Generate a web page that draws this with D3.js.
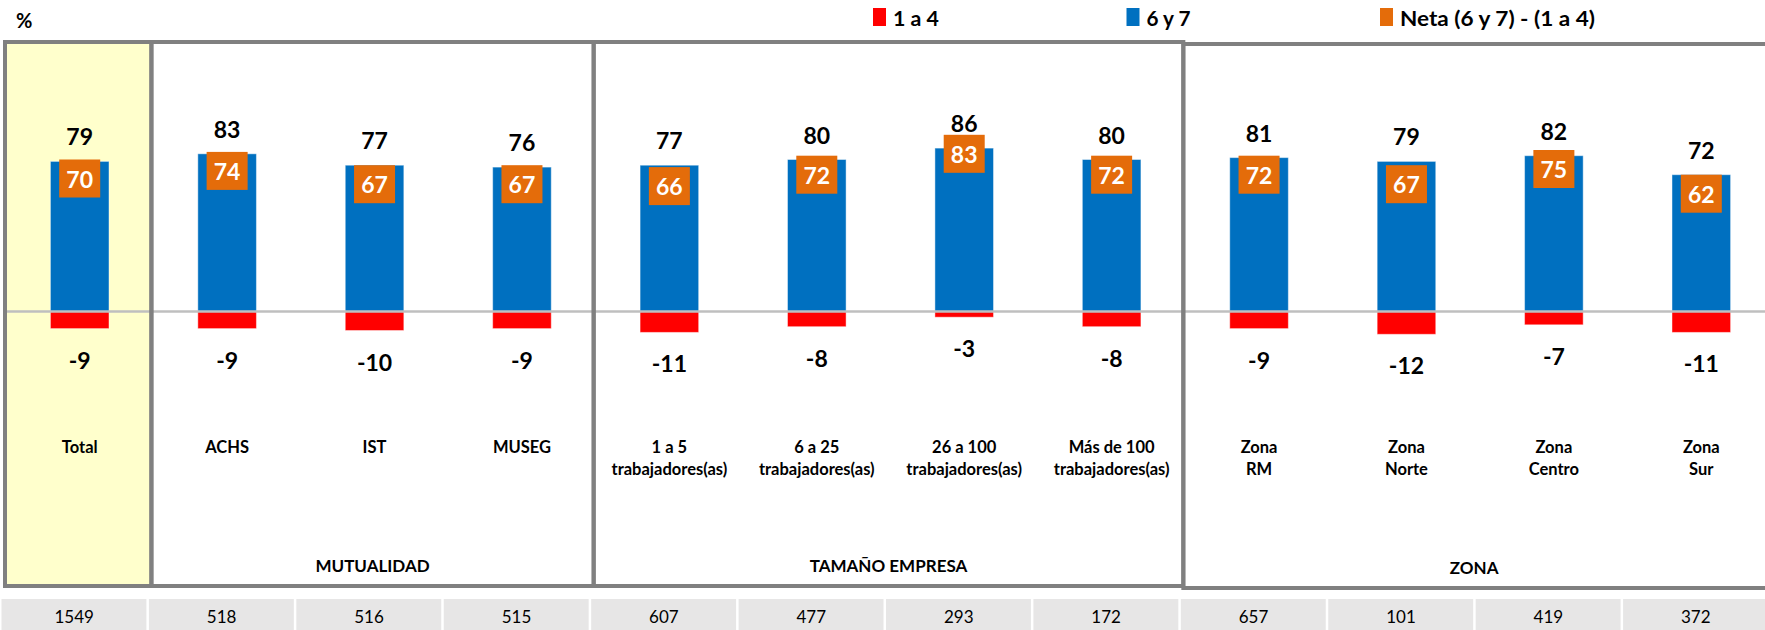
<!DOCTYPE html>
<html>
<head>
<meta charset="utf-8">
<script src="https://cdn.jsdelivr.net/npm/d3@7"></script>
<style>
  body { margin: 0; background: #fff; }
  svg { display: block; }
  text { font-family: Lato, "Open Sans", sans-serif; }
</style>
</head>
<body>
<svg id="chart" width="1765" height="630" viewBox="0 0 1765 630"></svg>
<script>
// categories, each one is a list of lines
const categories = [
    ["Total"], ["ACHS"], ["IST"], ["MUSEG"],
    ["1 a 5", "trabajadores(as)"], ["6 a 25", "trabajadores(as)"],
    ["26 a 100", "trabajadores(as)"], ["Más de 100", "trabajadores(as)"],
    ["Zona", "RM"], ["Zona", "Norte"], ["Zona", "Centro"], ["Zona", "Sur"]
];
const top67 = [79, 83, 77, 76, 77, 80, 86, 80, 81, 79, 82, 72];     // 6 y 7
const low14 = [-9, -9, -10, -9, -11, -8, -3, -8, -9, -12, -7, -11]; // 1 a 4
const neta = [70, 74, 67, 67, 66, 72, 83, 72, 72, 67, 75, 62];      // Neta
const baseN = [1549, 518, 516, 515, 607, 477, 293, 172, 657, 101, 419, 372];

// groups of columns (first and last index)
const groupNames = ["", "MUTUALIDAD", "TAMAÑO EMPRESA", "ZONA"];
const groupFirst = [0, 1, 4, 8];
const groupLast = [0, 3, 7, 11];

const legendLabels = ["1 a 4", "6 y 7", "Neta (6 y 7) - (1 a 4)"];

const W = 1765, H = 630;
const colBlue = "#0070C0", colRed = "#FF0000", colOrange = "#E46C0A";
const frameColor = "#808080";

const svg = d3.select("#chart");

const colX = d3.scaleBand()
    .domain(d3.range(categories.length))
    .range([6, 1775])
    .padding(0);
const step = colX.step();
const cx = i => colX(i) + step / 2;
const barW = 58.6;

const y = d3.scaleLinear().domain([0, 100]).range([311.5, 121.5]);

// yellow background of the Total column
svg.append("rect")
    .attr("x", colX(0) - 1).attr("y", 42)
    .attr("width", step - 1).attr("height", 544)
    .attr("fill", "#FFFFCC");

// bars
svg.selectAll("rect.pos")
    .data(top67)
    .join("rect")
    .attr("class", "pos")
    .attr("x", (d, i) => cx(i) - barW / 2)
    .attr("y", d => y(d))
    .attr("width", barW)
    .attr("height", d => y(0) - y(d))
    .attr("fill", colBlue)
    .attr("stroke", "rgba(255,255,255,0.45)")
    .attr("stroke-width", 1);

svg.selectAll("rect.neg")
    .data(low14)
    .join("rect")
    .attr("class", "neg")
    .attr("x", (d, i) => cx(i) - barW / 2)
    .attr("y", y(0))
    .attr("width", barW)
    .attr("height", d => y(d) - y(0))
    .attr("fill", colRed)
    .attr("stroke", "rgba(255,255,255,0.45)")
    .attr("stroke-width", 1);

// zero line
svg.append("line")
    .attr("x1", 7).attr("x2", W)
    .attr("y1", y(0)).attr("y2", y(0))
    .attr("stroke", "#BFBFBF")
    .attr("stroke-width", 2.5);

// value labels
svg.selectAll("text.top")
    .data(top67)
    .join("text")
    .attr("class", "top")
    .attr("x", (d, i) => cx(i))
    .attr("y", d => y(d) - 25)
    .attr("text-anchor", "middle")
    .attr("dominant-baseline", "central")
    .style("font-size", "23px")
    .style("font-weight", "bold")
    .text(d => d);

svg.selectAll("text.low")
    .data(low14)
    .join("text")
    .attr("class", "low")
    .attr("x", (d, i) => cx(i))
    .attr("y", d => y(d) + 31)
    .attr("text-anchor", "middle")
    .attr("dominant-baseline", "central")
    .style("font-size", "23px")
    .style("font-weight", "bold")
    .text(d => d);

// neta boxes
const netaG = svg.selectAll("g.neta")
    .data(neta)
    .join("g")
    .attr("class", "neta")
    .attr("transform", (d, i) => `translate(${cx(i)},${y(d)})`);
netaG.append("rect")
    .attr("x", -20.5).attr("y", -19)
    .attr("width", 41).attr("height", 38)
    .attr("fill", colOrange);
netaG.append("text")
    .attr("text-anchor", "middle")
    .attr("dominant-baseline", "central")
    .attr("fill", "#fff")
    .style("font-size", "23px")
    .style("font-weight", "bold")
    .text(d => d);

// category labels
const catG = svg.selectAll("text.cat")
    .data(categories)
    .join("text")
    .attr("class", "cat")
    .attr("text-anchor", "middle")
    .style("font-size", "16.5px")
    .style("font-weight", "bold");
catG.selectAll("tspan")
    .data((d, i) => d.map(line => ({line, i})))
    .join("tspan")
    .attr("x", d => cx(d.i))
    .attr("y", (d, j) => 447 + j * 22)
    .attr("dominant-baseline", "central")
    .text(d => d.line);

// group frames
const groups = groupNames.map((name, k) => {
    const x0 = colX(groupFirst[k]) - (k === 0 ? 1 : 2);
    const x1 = Math.min(colX(groupLast[k]) + step - 2, W + 10);
    return {name, x0, x1, shift: k === 3 ? 2 : 0};
});
svg.selectAll("rect.frame")
    .data(groups)
    .join("rect")
    .attr("class", "frame")
    .attr("x", d => d.x0)
    .attr("y", d => 42 + d.shift)
    .attr("width", d => d.x1 - d.x0)
    .attr("height", 544)
    .attr("fill", "none")
    .attr("stroke", frameColor)
    .attr("stroke-width", 4);

svg.selectAll("text.group")
    .data(groups.filter(d => d.name))
    .join("text")
    .attr("class", "group")
    .attr("x", d => (d.x0 + Math.min(d.x1, W)) / 2)
    .attr("y", d => 565 + d.shift)
    .attr("text-anchor", "middle")
    .attr("dominant-baseline", "central")
    .style("font-size", "17px")
    .style("font-weight", "bold")
    .text(d => d.name);

// base table
svg.selectAll("rect.cell")
    .data(baseN)
    .join("rect")
    .attr("class", "cell")
    .attr("x", (d, i) => colX(i) - 4.5)
    .attr("y", 599)
    .attr("width", step - 2.5)
    .attr("height", 32)
    .attr("fill", "#E7E6E6");

svg.selectAll("text.base")
    .data(baseN)
    .join("text")
    .attr("class", "base")
    .attr("x", (d, i) => cx(i) - 5.5)
    .attr("y", 616)
    .attr("text-anchor", "middle")
    .attr("dominant-baseline", "central")
    .style("font-size", "17px")
    .text(d => d);

// % title
svg.append("text")
    .attr("x", 16).attr("y", 20)
    .attr("dominant-baseline", "central")
    .style("font-size", "20px")
    .style("font-weight", "bold")
    .text("%");

// legend
const legendColors = [colRed, colBlue, colOrange];
const legendTextW = [46, 44, 195];
const legG = svg.selectAll("g.leg")
    .data(legendLabels)
    .join("g")
    .attr("class", "leg")
    .attr("transform", (d, i) => `translate(${873 + i * 253.5},17)`);
legG.append("rect")
    .attr("x", 0).attr("y", -9)
    .attr("width", 13).attr("height", 18)
    .attr("fill", (d, i) => legendColors[i]);
legG.append("text")
    .attr("x", 20)
    .attr("dominant-baseline", "central")
    .attr("textLength", (d, i) => legendTextW[i])
    .attr("lengthAdjust", "spacingAndGlyphs")
    .style("font-family", "'Liberation Sans Narrow', Lato, sans-serif")
    .style("font-size", "21px")
    .style("font-weight", "bold")
    .text(d => d);
</script>
</body>
</html>
